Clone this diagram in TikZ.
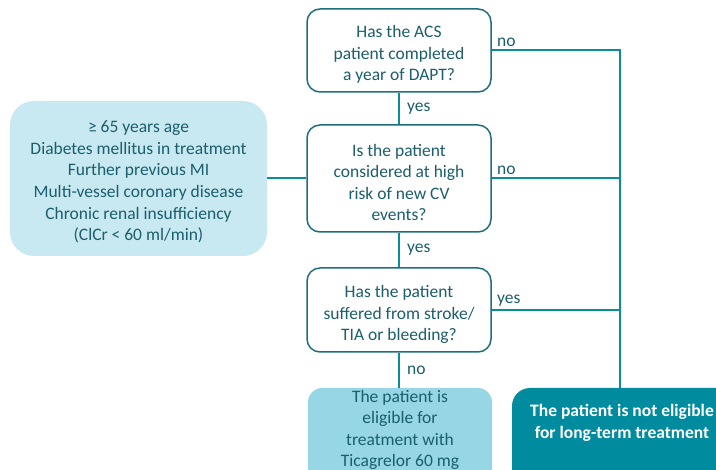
\documentclass[tikz,border=0pt]{standalone}
\usepackage{fontspec}
\setmainfont{Carlito}
\definecolor{bordc}{HTML}{1F6E7E}
\definecolor{linec}{HTML}{0B8B9E}
\definecolor{txtc}{HTML}{1B5E6C}
\definecolor{lightc}{HTML}{C8E9F1}
\definecolor{eligc}{HTML}{97D6E4}
\definecolor{darkc}{HTML}{008B9F}
\begin{document}
\begin{tikzpicture}[x=1pt,y=-1pt,
  every node/.style={font=\fontsize{17.5}{21.6}\selectfont, text=txtc, inner sep=0pt},
  qbox/.style={draw=bordc, line width=1.5pt, rounded corners=13pt, fill=white, minimum width=184pt},
  txt/.style={align=center},
  conn/.style={draw=linec, line width=2pt},
  lbl/.style={anchor=west, text=txtc}]
\useasboundingbox (0,0) rectangle (716,470);
\clip (0,0) rectangle (716,470);
% question boxes
\node[qbox, minimum height=83pt] (q1) at (399,50.5) {};
\node[txt] (q1t) at (399,54.5) {Has the ACS\\patient completed\\a year of DAPT?};
\node[qbox, minimum height=107pt] (q2) at (399,178.5) {};
\node[txt] (q2t) at (399,182.5) {Is the patient\\considered at high\\risk of new CV\\events?};
\node[qbox, minimum height=84pt] (q3) at (399,310) {};
\node[txt] (q3t) at (399,314.5) {Has the patient\\suffered from stroke/\\TIA or bleeding?};
% left risk box
\node[fill=lightc, rounded corners=24pt, minimum width=257pt, minimum height=155pt] (risk) at (138.5,178.5) {};
\node[txt] (riskt) at (138.5,182)
  {≥ 65 years age\\Diabetes mellitus in treatment\\Further previous MI\\Multi-vessel coronary disease\\Chronic renal insufficiency\\(ClCr < 60 ml/min)};
% outcome boxes
\node[fill=eligc, rounded corners=14pt, minimum width=184pt, minimum height=100pt] (elig) at (400,438) {};
\node[txt] (eligt) at (400,430) {The patient is\\eligible for\\treatment with\\Ticagrelor 60 mg};
\node[fill=darkc, rounded corners=18pt, minimum width=230pt, minimum height=100pt] (notel) at (627,438) {};
\node[txt, text=white, font=\fontsize{17.5}{21.6}\selectfont\bfseries] (notelt) at (622,423) {The patient is not eligible\\for long-term treatment};
% connectors
\coordinate (c1) at (620,50.5);
\coordinate (c2) at (620,178.5);
\coordinate (c3) at (620,310);
\coordinate (c4) at (620,388);
\draw[conn] (q1.east) -- (c1) -- (c4);
\draw[conn] (q2.east) -- (c2);
\draw[conn] (q3.east) -- (c3);
\draw[conn] (q1.south) -- (q2.north);
\draw[conn] (q2.south) -- (q3.north);
\draw[conn] (q3.south) -- (elig.north -| q3.south);
\draw[conn] (risk.east) -- (q2.west);
% labels
\node[lbl] (l1) at (497,42) {no};
\node[lbl] (l2) at (497,170) {no};
\node[lbl] (l3) at (497,301) {yes};
\node[lbl] (l4) at (407,109) {yes};
\node[lbl] (l5) at (407,250) {yes};
\node[lbl] (l6) at (407,370) {no};
\end{tikzpicture}
\end{document}
